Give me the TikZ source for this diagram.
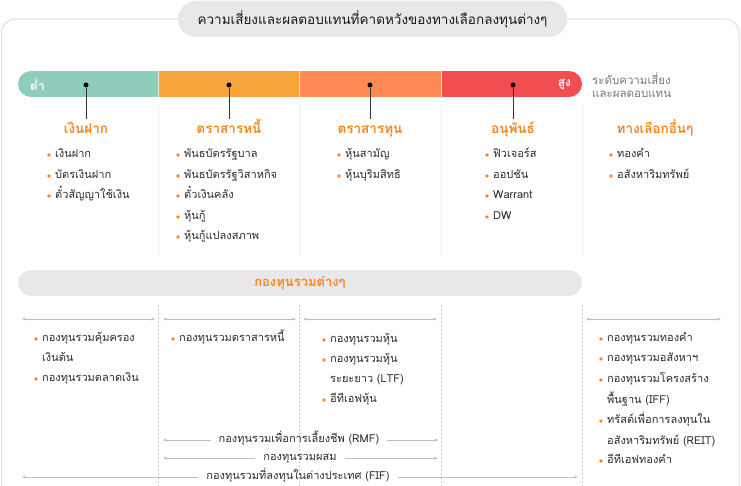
\documentclass[tikz,border=0pt]{standalone}
\usepackage{fontspec}
\setmainfont[Script=Thai]{Loma}
\usetikzlibrary{arrows.meta}
\definecolor{cgreen}{HTML}{8ECDBC}
\definecolor{corange}{HTML}{F5A53A}
\definecolor{ccoral}{HTML}{FF8A55}
\definecolor{cred}{HTML}{F24E52}
\definecolor{hdr}{HTML}{F7861C}
\definecolor{txt}{HTML}{2B2B2B}
\definecolor{pillc}{HTML}{E9E7EA}
\definecolor{framec}{HTML}{DDDDDD}
\definecolor{arrc}{HTML}{BDBDBD}
\definecolor{divc}{HTML}{CCCCCC}
\definecolor{graytxt}{HTML}{777777}
\tikzset{
  itembase/.style={anchor=west, inner sep=0pt, text height=7.5pt, text depth=2.5pt,
    font=\fontsize{11}{12}\selectfont, text=txt},
  item/.style={itembase, label={[circle, fill=hdr, inner sep=0pt, minimum size=3.6pt, label distance=4pt]left:{}}},
  head/.style={font=\bfseries\fontsize{13.5}{15}\selectfont, text=hdr, inner sep=1pt, text height=9.5pt, text depth=3pt},
  seg/.style={minimum height=26pt, inner sep=0pt},
  dotmark/.style={circle, fill=black, inner sep=0pt, minimum size=5pt},
  stem/.style={draw=black!80, line width=0.7pt},
  divider/.style={draw=divc, line width=0.8pt, dash pattern=on 1.5pt off 2.5pt},
  dbl/.style={draw=arrc, line width=0.6pt, {Stealth[length=4pt,width=3pt]}-{Stealth[length=4pt,width=3pt]}},
  sgl/.style={draw=arrc, line width=0.6pt, -{Stealth[length=4pt,width=3pt]}},
  btxt/.style={font=\fontsize{11}{12}\selectfont, text=txt, inner xsep=8pt, inner ysep=0pt, text height=7.5pt, text depth=2.5pt},
}
\begin{document}
\begin{tikzpicture}[x=1pt,y=-1pt]
\useasboundingbox (0,0) rectangle (741,486);
\clip (0,0) rectangle (741,486);
% frame
\draw[framec, line width=1pt, rounded corners=14pt] (1.5,530) -- (1.5,19) -- (739,19) -- (739,530);
% title
\node[fill=pillc, rounded corners=18pt, minimum width=389pt, minimum height=36pt, inner sep=0pt,
  font=\fontsize{13.5}{15}\selectfont, text=black!90] (title) at (372.5,19) {ความเสี่ยงและผลตอบแทนที่คาดหวังของทางเลือกลงทุนต่างๆ};
% bar
\begin{scope}
\clip[rounded corners=13pt] (18,71) rectangle (582,97);
\node[seg, fill=cgreen, minimum width=140pt] (s1) at (88,84) {};
\node[seg, fill=corange, minimum width=141pt] (s2) at (229,84) {};
\node[seg, fill=ccoral, minimum width=141pt] (s3) at (370.5,84) {};
\node[seg, fill=cred, minimum width=141pt] (s4) at (511.5,84) {};
\end{scope}
\draw[white!85!gray, line width=0.5pt] (158,71) -- (158,97) (299.5,71) -- (299.5,97) (441,71) -- (441,97);
\node[font=\bfseries\fontsize{12}{14}\selectfont, text=white, inner sep=0pt] (low) at (37.5,84) {ต่ำ};
\node[font=\bfseries\fontsize{12}{14}\selectfont, text=white, inner sep=0pt] (high) at (564.5,84) {สูง};
\node[anchor=west, align=left, font=\fontsize{11.5}{13.5}\selectfont, text=graytxt, inner sep=0pt] (lvl) at (592,85) {ระดับความเสี่ยง\\และผลตอบแทน};
% dividers
\foreach \xx in {158,299.5,441,582}{
  \draw[divider] (\xx,105) -- (\xx,254);
  \draw[divider] (\xx,305) -- (\xx,490);
}
% dots & headings
\node[dotmark] (d1) at (86,85) {};
\node[dotmark] (d2) at (229,85) {};
\node[dotmark] (d3) at (370,85) {};
\node[dotmark] (d4) at (513,85) {};
\node[head] (h1) at (86,130) {เงินฝาก};
\node[head] (h2) at (229,130) {ตราสารหนี้};
\node[head] (h3) at (370,130) {ตราสารทุน};
\node[head] (h4) at (513,130) {อนุพันธ์};
\node[head] (h5) at (655,130) {ทางเลือกอื่นๆ};
\foreach \i in {1,2,3,4}{ \draw[stem, shorten >=4pt] (d\i) -- (h\i.north); }
% items col1
\node[item] (a1) at (55,155) {เงินฝาก};
\node[item] (a2) at (55,176) {บัตรเงินฝาก};
\node[item] (a3) at (55,196) {ตั๋วสัญญาใช้เงิน};
% col2
\node[item] (b1) at (184,155) {พันธบัตรรัฐบาล};
\node[item] (b2) at (184,176) {พันธบัตรรัฐวิสาหกิจ};
\node[item] (b3) at (184,196) {ตั๋วเงินคลัง};
\node[item] (b4) at (184,217) {หุ้นกู้};
\node[item] (b5) at (184,237) {หุ้นกู้แปลงสภาพ};
% col3
\node[item] (c1) at (345,155) {หุ้นสามัญ};
\node[item] (c2) at (345,176) {หุ้นบุริมสิทธิ};
% col4
\node[item] (e1) at (493,155) {ฟิวเจอร์ส};
\node[item] (e2) at (493,176) {ออปชัน};
\node[item] (e3) at (493,196) {Warrant};
\node[item] (e4) at (493,217) {DW};
% col5
\node[item] (g1) at (617,155) {ทองคำ};
\node[item] (g2) at (617,176) {อสังหาริมทรัพย์};
% funds pill
\node[fill=pillc, rounded corners=13pt, minimum width=564pt, minimum height=26pt, inner sep=0pt,
  font=\bfseries\fontsize{13}{14}\selectfont, text=hdr] (funds) at (300,283) {กองทุนรวมต่างๆ};
% range arrows
\coordinate (r1a) at (22,319); \coordinate (r1b) at (155,319);
\coordinate (r2a) at (163,319); \coordinate (r2b) at (296,319);
\coordinate (r3a) at (303,319); \coordinate (r3b) at (437,319);
\coordinate (r5a) at (586,319); \coordinate (r5b) at (721,319);
\draw[dbl] (r1a) -- (r1b);
\draw[dbl] (r2a) -- (r2b);
\draw[dbl] (r3a) -- (r3b);
\draw[dbl] (r5a) -- (r5b);
% fund items
\node[item] (f11) at (42,339) {กองทุนรวมคุ้มครอง};
\node[itembase] (f12) at (42,359) {เงินต้น};
\node[item] (f13) at (42,379) {กองทุนรวมตลาดเงิน};
\node[item] (f21) at (179,339) {กองทุนรวมตราสารหนี้};
\node[item] (f31) at (330,340) {กองทุนรวมหุ้น};
\node[item] (f32) at (330,360) {กองทุนรวมหุ้น};
\node[itembase] (f33) at (330,380) {ระยะยาว (LTF)};
\node[item] (f34) at (330,400) {อีทีเอฟหุ้น};
\node[item] (f51) at (607,339) {กองทุนรวมทองคำ};
\node[item] (f52) at (607,359) {กองทุนรวมอสังหาฯ};
\node[item] (f53) at (607,380) {กองทุนรวมโครงสร้าง};
\node[itembase] (f54) at (607,401) {พื้นฐาน (IFF)};
\node[item] (f55) at (607,421) {ทรัสต์เพื่อการลงทุนใน};
\node[itembase] (f56) at (607,442) {อสังหาริมทรัพย์ (REIT)};
\node[item] (f57) at (607,461) {อีทีเอฟทองคำ};
% bottom spans
\node[btxt] (rmf) at (299,440) {กองทุนรวมเพื่อการเลี้ยงชีพ (RMF)};
\node[btxt] (mix) at (300,458) {กองทุนรวมผสม};
\node[btxt] (fif) at (298,477) {กองทุนรวมที่ลงทุนในต่างประเทศ (FIF)};
\coordinate (rmfL) at (163,440); \coordinate (rmfR) at (438,440);
\coordinate (mixL) at (163,458); \coordinate (mixR) at (438,458);
\coordinate (fifL) at (22,477); \coordinate (fifR) at (578,477);
\draw[sgl] (rmf.west) -- (rmfL); \draw[sgl] (rmf.east) -- (rmfR);
\draw[sgl] (mix.west) -- (mixL); \draw[sgl] (mix.east) -- (mixR);
\draw[sgl] (fif.west) -- (fifL); \draw[sgl] (fif.east) -- (fifR);
\end{tikzpicture}
\end{document}
